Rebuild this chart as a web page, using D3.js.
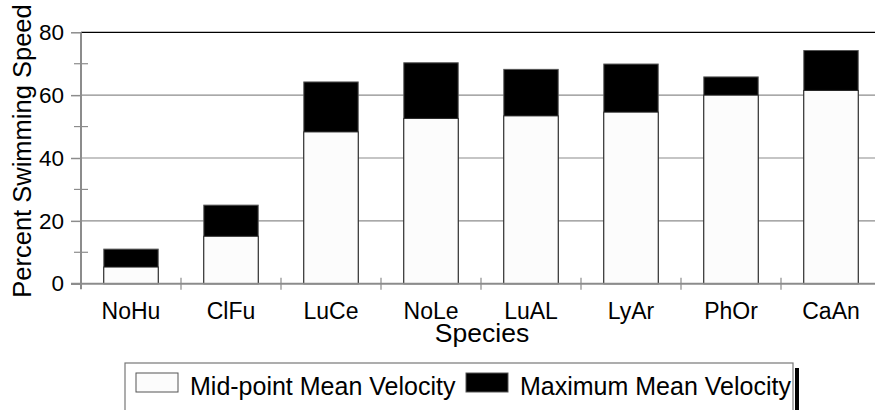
<!DOCTYPE html>
<html>
<head>
<meta charset="utf-8">
<script src="https://cdn.jsdelivr.net/npm/d3@7"></script>
<style>
  html, body { margin: 0; padding: 0; background: #fff; }
  svg { display: block; font-family: "Liberation Sans", Arial, sans-serif; }
</style>
</head>
<body>
<svg id="chart" width="875" height="410"></svg>
<script>
const categories = ["NoHu", "ClFu", "LuCe", "NoLe", "LuAL", "LyAr", "PhOr", "CaAn"];
const midValues = [5.3, 15.1, 48.3, 52.6, 53.4, 54.6, 60.0, 61.5];
const maxValues = [11.0, 25.0, 64.2, 70.3, 68.2, 69.9, 65.8, 74.2];
const majorTicks = [0, 20, 40, 60, 80];
const minorTicks = [10, 30, 50, 70];
const seriesNames = ["Mid-point Mean Velocity", "Maximum Mean Velocity"];
const yTitle = "Percent Swimming Speed";
const xTitle = "Species";

(function () {
const svg = d3.select("#chart");
const pLeft = 81, pRight = 881, pTop = 32.3, pBottom = 283.7;

const x = d3.scaleBand().domain(categories).range([pLeft, pRight]).paddingInner(0.456).paddingOuter(0.228);
const y = d3.scaleLinear().domain([0, 80]).range([pBottom, pTop]);

// gridlines
svg.append("g").selectAll("line").data(majorTicks.filter(d => d > 0)).join("line")
  .attr("x1", pLeft).attr("x2", pRight)
  .attr("y1", d => y(d)).attr("y2", d => y(d))
  .attr("stroke", d => d === 80 ? "#000" : "#8c8c8c").attr("stroke-width", 1.2);

// bars: max (black) behind, mid (white) in front
const bars = svg.append("g");
bars.selectAll("rect.max").data(categories).join("rect").attr("class", "max")
  .attr("x", d => x(d)).attr("width", x.bandwidth())
  .attr("y", (d, i) => y(maxValues[i])).attr("height", (d, i) => y(0) - y(maxValues[i]))
  .attr("fill", "#000").attr("stroke", "#555").attr("stroke-width", 1);
bars.selectAll("rect.mid").data(categories).join("rect").attr("class", "mid")
  .attr("x", d => x(d)).attr("width", x.bandwidth())
  .attr("y", (d, i) => y(midValues[i])).attr("height", (d, i) => y(0) - y(midValues[i]))
  .attr("fill", "#fcfcfc").attr("stroke", "#222").attr("stroke-width", 1);

// y axis
const yAxis = d3.axisLeft(y).tickValues(majorTicks).tickSize(10).tickPadding(7).tickFormat(d3.format("d"));
const yg = svg.append("g").attr("transform", `translate(${pLeft},0)`).call(yAxis);
yg.select(".domain").remove();
yg.selectAll(".tick line").attr("stroke", "#8c8c8c").attr("stroke-width", 1.5);
yg.selectAll(".tick text").attr("font-size", 22.5).attr("fill", "#000")
  .attr("font-family", "Liberation Sans, Arial, sans-serif");
// minor ticks crossing
svg.append("g").selectAll("line").data(minorTicks).join("line")
  .attr("x1", pLeft - 7).attr("x2", pLeft + 7)
  .attr("y1", d => y(d)).attr("y2", d => y(d))
  .attr("stroke", "#8c8c8c").attr("stroke-width", 1.2);
// y axis line
svg.append("line").attr("x1", pLeft).attr("x2", pLeft).attr("y1", pTop).attr("y2", pBottom + 5.5)
  .attr("stroke", "#8c8c8c").attr("stroke-width", 2);

// x axis
const xg = svg.append("g").attr("transform", `translate(0,${pBottom})`)
  .call(d3.axisBottom(x).tickSize(0).tickPadding(19));
xg.select(".domain").remove();
xg.selectAll(".tick text").attr("font-size", 23).attr("fill", "#000")
  .attr("font-family", "Liberation Sans, Arial, sans-serif");
svg.append("line").attr("x1", pLeft - 10).attr("x2", pRight).attr("y1", pBottom).attr("y2", pBottom)
  .attr("stroke", "#8c8c8c").attr("stroke-width", 2);
// band boundary ticks crossing the x axis
svg.append("g").selectAll("line").data(categories.slice(1)).join("line")
  .attr("x1", d => x(d) - x.step() * x.paddingInner() / 2)
  .attr("x2", d => x(d) - x.step() * x.paddingInner() / 2)
  .attr("y1", pBottom - 6).attr("y2", pBottom + 6)
  .attr("stroke", "#8c8c8c").attr("stroke-width", 1.2);

// axis titles
svg.append("text").attr("transform", `translate(31,151) rotate(-90)`)
  .attr("text-anchor", "middle").attr("font-size", 25.5).attr("fill", "#000").text(yTitle);
svg.append("text").attr("x", 482).attr("y", 342)
  .attr("text-anchor", "middle").attr("font-size", 26.5).attr("fill", "#000").text(xTitle);

// legend
const lg = svg.append("g");
lg.append("rect").attr("x", 125).attr("y", 363).attr("width", 668).attr("height", 70)
  .attr("fill", "#fff").attr("stroke", "#777").attr("stroke-width", 1.2);
lg.append("line").attr("x1", 797).attr("x2", 797).attr("y1", 368).attr("y2", 410)
  .attr("stroke", "#000").attr("stroke-width", 4);
const swatchX = [136, 466], textX = [190, 520];
const fills = ["#fcfcfc", "#000"];
seriesNames.forEach((name, i) => {
  lg.append("rect").attr("x", swatchX[i]).attr("y", 373).attr("width", 42).attr("height", 19)
    .attr("fill", fills[i]).attr("stroke", "#555").attr("stroke-width", 1);
  lg.append("text").attr("x", textX[i]).attr("y", 395).attr("font-size", 25).attr("fill", "#000").text(name);
});
})();
</script>
</body>
</html>
